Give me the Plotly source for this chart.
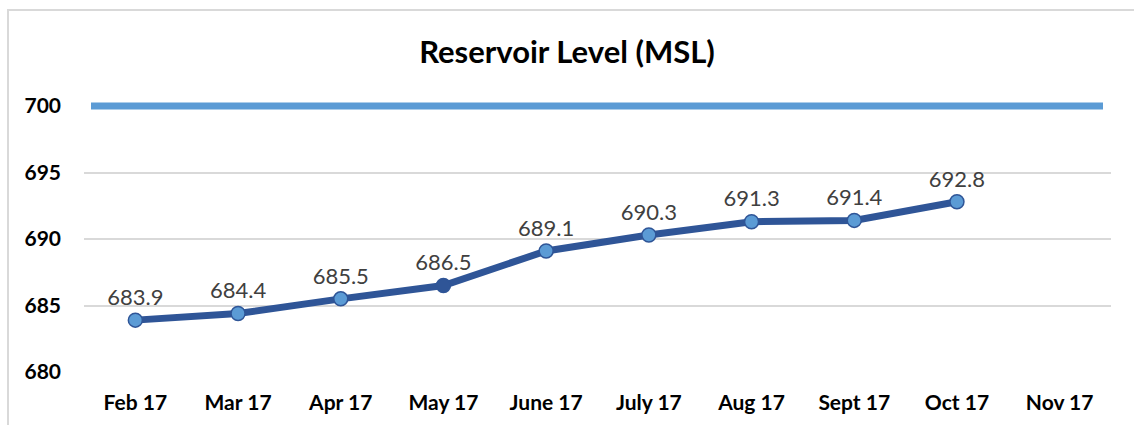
import plotly.graph_objects as go

months = ["Feb 17", "Mar 17", "Apr 17", "May 17", "June 17", "July 17",
          "Aug 17", "Sept 17", "Oct 17", "Nov 17"]
levels = [683.9, 684.4, 685.5, 686.5, 689.1, 690.3, 691.3, 691.4, 692.8, None]
full_level = 700
y_ticks = [680, 685, 690, 695, 700]
y_min, y_max = 680, 700

W, H = 1134, 425
ml, mr, mt, mb = 84, 23, 106, 53
pw, ph = W - ml - mr, H - mt - mb

def px_x(p):
    return (p - ml) / pw

def px_y(p):
    return (H - mb - p) / ph

dark = "#2F5597"
light = "#5B9BD5"
marker_fill = [dark if m == "May 17" else light for m in months]

fig = go.Figure()
fig.add_trace(go.Scatter(
    x=months, y=levels, mode="lines+markers+text",
    line=dict(color=dark, width=7),
    marker=dict(size=14, color=marker_fill, line=dict(color=dark, width=1.5)),
    text=[f"{v:.1f}" if v is not None else "" for v in levels],
    textposition="top center",
    textfont=dict(family="Lato", size=22, color="#404040"),
    cliponaxis=False, showlegend=False, hoverinfo="x+y",
))

# full reservoir level line (paper-referenced so it is not clipped at the top edge)
full_y = (full_level - y_min) / (y_max - y_min)
fig.add_shape(type="line", xref="paper", yref="paper",
              x0=px_x(91), x1=px_x(1103), y0=full_y, y1=full_y,
              line=dict(color=light, width=7), layer="above")

# chart border
fig.add_shape(type="rect", xref="paper", yref="paper",
              x0=px_x(8), x1=px_x(1160), y0=px_y(460), y1=px_y(10),
              line=dict(color="#D9D9D9", width=2), layer="below")

fig.update_layout(
    width=W, height=H,
    margin=dict(l=ml, r=mr, t=mt, b=mb),
    paper_bgcolor="white", plot_bgcolor="white",
    title=dict(text="<b>Reservoir Level (MSL)</b>", x=0.5, xanchor="center",
               y=1 - 52 / H, yanchor="middle",
               font=dict(family="Lato", size=31, color="black")),
    xaxis=dict(type="category", categoryorder="array", categoryarray=months,
               range=[-0.5, len(months) - 0.5],
               showgrid=False, zeroline=False, showline=False, ticks="",
               tickfont=dict(family="Lato", size=21, color="black"),
               ticklabelstandoff=16),
    yaxis=dict(range=[y_min, y_max], tickvals=y_ticks,
               ticktext=[f"<b>{t}</b>" for t in y_ticks],
               showgrid=True, gridcolor="#D9D9D9", gridwidth=1.5,
               zeroline=False, showline=False, ticks="",
               tickfont=dict(family="Lato", size=21, color="black"),
               ticklabelstandoff=22),
)
fig.update_xaxes(ticktext=[f"<b>{m}</b>" for m in months], tickvals=months)

fig.write_html("out.html", config={"displayModeBar": False},
               post_script="document.body.style.margin='0';document.body.style.padding='0';")
